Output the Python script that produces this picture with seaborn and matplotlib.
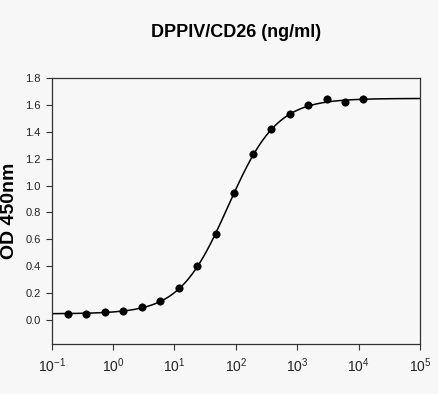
import numpy as np
import pandas as pd
import matplotlib
matplotlib.use("Agg")
import matplotlib.pyplot as plt
import seaborn as sns

# ===============================
# Data
# ===============================
conc = [0.183, 0.366, 0.732, 1.46, 2.93, 5.86, 11.7, 23.4, 46.9, 93.8,
        188, 375, 750, 1500, 3000, 6000, 12000]
od = [0.045, 0.047, 0.055, 0.067, 0.099, 0.141, 0.241, 0.402, 0.640, 0.946,
      1.236, 1.422, 1.531, 1.603, 1.643, 1.621, 1.648]

# 4PL fit parameters (estimated from the drawn curve)
fit_bottom = 0.045
fit_top = 1.65
fit_ec50 = 75.0
fit_hill = 1.1

df = pd.DataFrame({"conc": conc, "od": od})

x_fit = np.logspace(-1, 5, 400)
y_fit = fit_bottom + (fit_top - fit_bottom) / (1 + (fit_ec50 / x_fit) ** fit_hill)
fit_df = pd.DataFrame({"conc": x_fit, "od": y_fit})

# ===============================
# Plot
# ===============================
sns.set_style("ticks")
plt.rcParams["font.family"] = ["Liberation Sans", "DejaVu Sans"]
plt.rcParams["mathtext.fontset"] = "custom"
plt.rcParams["mathtext.rm"] = "Liberation Sans"
plt.rcParams["mathtext.default"] = "regular"
plt.rcParams["text.color"] = "black"
plt.rcParams["axes.labelcolor"] = "black"

bg = "#f7f7f7"
fig = plt.figure(figsize=(4.39, 3.94), dpi=100, facecolor=bg)
ax = fig.add_axes([51.7 / 439, 1 - 344 / 394, (420 - 51.7) / 439, (344 - 78.3) / 394])
ax.set_facecolor(bg)

sns.lineplot(data=fit_df, x="conc", y="od", ax=ax, color="black", linewidth=1.1)
sns.scatterplot(data=df, x="conc", y="od", ax=ax, color="black", s=28,
                edgecolor="black", linewidth=0.5, zorder=3)

ax.set_xscale("log")
ax.set_xlim(0.1, 1e5)
ax.set_ylim(-0.18, 1.8)
ax.set_yticks(np.arange(0, 1.81, 0.2))
ax.set_yticklabels([f"{v:.1f}" for v in np.arange(0, 1.81, 0.2)])
ax.set_xticks([1e-1, 1e0, 1e1, 1e2, 1e3, 1e4, 1e5])
ax.xaxis.set_minor_locator(matplotlib.ticker.NullLocator())

for s in ax.spines.values():
    s.set_color("#333333")
    s.set_linewidth(0.9)

ax.tick_params(axis="both", direction="out", length=4, width=0.8,
               colors="#333333", labelcolor="#222222",
               top=False, right=False)
ax.tick_params(axis="y", labelsize=8, pad=4)
ax.tick_params(axis="x", labelsize=10, pad=5)

ax.set_xlabel("")
ax.set_ylabel("OD 450nm", fontsize=14, fontweight="bold", labelpad=5)
ax.set_title("DPPIV/CD26 (ng/ml)", fontsize=13, fontweight="bold", pad=30)

fig.savefig("out.png", dpi=100, facecolor=bg)
